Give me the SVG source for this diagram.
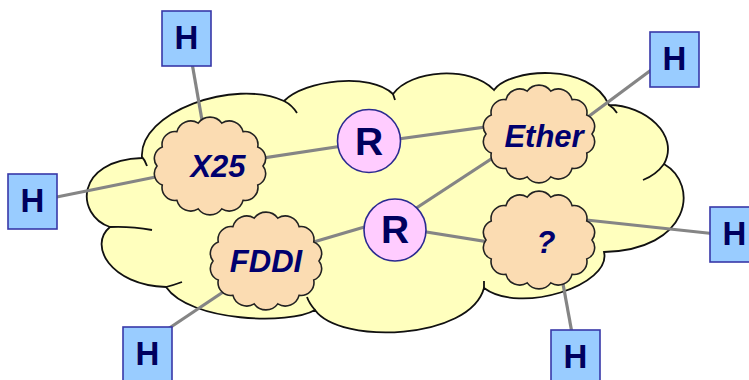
<svg xmlns="http://www.w3.org/2000/svg" xmlns:xlink="http://www.w3.org/1999/xlink" width="749" height="380" viewBox="0 0 749 380">
<style>
.big{fill:#ffffbe;stroke:#111;stroke-width:1.8}
.crease{fill:none;stroke:#111;stroke-width:1.8}
.sc{fill:#fbdcb2;stroke:#222;stroke-width:1.6}
.conn line{stroke:#858585;stroke-width:3.2}
.hb{fill:#99ccff;stroke:#3838a8;stroke-width:1.6}
.rc{fill:#ffccff;stroke:#2a2a90;stroke-width:1.6}
.ht{font-family:"Liberation Sans",Arial,sans-serif;font-weight:bold;font-size:33px;fill:#00005e;text-anchor:middle}
.rt{font-family:"Liberation Sans",Arial,sans-serif;font-weight:bold;font-size:39px;fill:#00005e;text-anchor:middle}
.lt{font-family:"Liberation Sans",Arial,sans-serif;font-weight:bold;font-style:italic;font-size:31px;fill:#00006e;text-anchor:middle}
</style>
<defs>
<path id="small" class="sc" d="M 53 0 A 12.3 12.3 0 0 1 47.75 19.09 A 13.1 13.1 0 0 1 33.05 34.4 A 14.2 14.2 0 0 1 11.79 42.9 A 14.6 14.6 0 0 1 -11.79 42.9 A 14.2 14.2 0 0 1 -33.05 34.4 A 13.1 13.1 0 0 1 -47.75 19.09 A 12.3 12.3 0 0 1 -53 0 A 12.3 12.3 0 0 1 -47.75 -19.09 A 13.1 13.1 0 0 1 -33.05 -34.4 A 14.2 14.2 0 0 1 -11.79 -42.9 A 14.6 14.6 0 0 1 11.79 -42.9 A 14.2 14.2 0 0 1 33.05 -34.4 A 13.1 13.1 0 0 1 47.75 -19.09 A 12.3 12.3 0 0 1 53 0 Z"/>
</defs>
<g id="internet">
<path class="big" d="M 142 158 C 138 112 235 78 284 101 C 305 80 370 72 393 94 C 410 70 470 65 494 90 C 510 68 590 62 609 105 C 645 105 680 135 664 164 C 700 185 690 250 604 252 C 612 285 520 315 484 288 C 470 340 340 345 315 310 C 290 325 190 322 166 287 C 110 285 88 245 110 227 C 75 215 75 160 142 158 Z"/>
<path class="crease" d="M 284 101 Q 292 105 297 113 M 393 94 L 395 100 M 609 105 Q 614 108 617 113 M 664 164 Q 656 175 643 180 M 484 288 L 484 281 M 315 310 Q 309 303 307 297 M 166 287 Q 174 285 182 282 M 110 227 Q 130 226 152 230 M 142 157 Q 145 160 147 166"/>
</g>
<g id="connectors" class="conn">
<line x1="188" y1="40" x2="210" y2="166"/>
<line x1="32" y1="202" x2="210" y2="166"/>
<line x1="674" y1="53" x2="565" y2="134"/>
<line x1="210" y1="166" x2="369" y2="142"/>
<line x1="369" y1="143" x2="530" y2="121"/>
<line x1="395" y1="222" x2="520" y2="140"/>
<line x1="266" y1="256" x2="395" y2="218"/>
<line x1="395" y1="227" x2="539" y2="250"/>
<line x1="540" y1="215" x2="735" y2="236"/>
<line x1="555" y1="240" x2="576" y2="355"/>
<line x1="147" y1="343" x2="250" y2="274"/>
</g>
<g id="x25"><use xlink:href="#small" transform="translate(210,166)"/><text class="lt" x="218" y="177">X25</text></g>
<g id="ether"><use xlink:href="#small" transform="translate(539,134)"/><text class="lt" x="544" y="147">Ether</text></g>
<g id="fddi"><use xlink:href="#small" transform="translate(266,261)"/><text class="lt" x="266" y="272">FDDI</text></g>
<g id="unknown"><use xlink:href="#small" transform="translate(539,240)"/><text class="lt" x="546" y="253">?</text></g>
<g id="r1"><circle class="rc" cx="369" cy="141" r="31.5"/><text class="rt" x="369" y="155">R</text></g>
<g id="r2"><circle class="rc" cx="395" cy="230" r="31"/><text class="rt" x="395" y="243">R</text></g>
<g id="h-top"><rect class="hb" x="162" y="11" width="49" height="55"/><text class="ht" x="186.5" y="49">H</text></g>
<g id="h-left"><rect class="hb" x="8" y="174" width="49" height="55"/><text class="ht" x="32.5" y="212">H</text></g>
<g id="h-topright"><rect class="hb" x="650" y="32" width="49" height="55"/><text class="ht" x="674.5" y="70">H</text></g>
<g id="h-right"><rect class="hb" x="710" y="207" width="49" height="55"/><text class="ht" x="734.5" y="245">H</text></g>
<g id="h-bottomleft"><rect class="hb" x="123" y="327" width="49" height="55"/><text class="ht" x="147.5" y="365">H</text></g>
<g id="h-bottomright"><rect class="hb" x="551" y="330" width="49" height="55"/><text class="ht" x="575.5" y="368">H</text></g>
</svg>
